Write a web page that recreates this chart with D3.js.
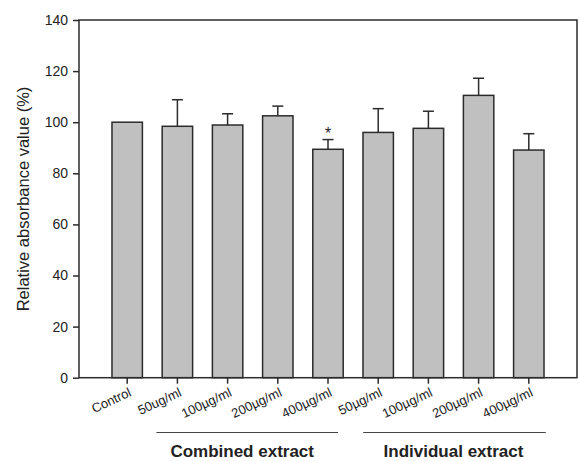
<!DOCTYPE html>
<html><head><meta charset="utf-8">
<script src="https://cdn.jsdelivr.net/npm/d3@7"></script>
<style>body{margin:0;background:#fff}svg{display:block}text{font-family:"Liberation Sans",Arial,sans-serif;fill:#222}</style>
</head><body>
<svg id="c" width="580" height="461"></svg>
<script>
const categories = ["Control","50ug/ml","100µg/ml","200µg/ml","400µg/ml","50µg/ml","100µg/ml","200µg/ml","400µg/ml"];
const values = [100, 98.4, 98.9, 102.5, 89.4, 96.0, 97.6, 110.5, 89.1];
const errors = [0, 10.4, 4.4, 3.8, 3.8, 9.3, 6.7, 6.7, 6.4];
const yTicks = [0,20,40,60,80,100,120,140];
const significant = [false,false,false,false,true,false,false,false,false];
const groups = [{label:"Combined extract", from:1, to:4},{label:"Individual extract", from:5, to:8}];

const svg = d3.select("#c");
const L=79, R=577, T=20, B=377.7;
const x = d3.scaleBand().domain(d3.range(categories.length)).range([L,R]).paddingInner(0.394).paddingOuter(0.657);
const y = d3.scaleLinear().domain([0,140]).range([B,T]);
const ink="#2b2b2b";
const cxOf = i => x(i)+x.bandwidth()/2;

// bars
svg.selectAll("rect.bar").data(values).join("rect")
  .attr("x",(d,i)=>x(i)).attr("width",x.bandwidth())
  .attr("y",d=>y(d)).attr("height",d=>y(0)-y(d))
  .attr("fill","#c0c0c0").attr("stroke",ink).attr("stroke-width",1.5);

// error bars
const eb = svg.append("g").attr("stroke",ink).attr("stroke-width",1.5);
values.forEach((v,i)=>{
  if(!errors[i]) return;
  const cx = cxOf(i);
  eb.append("line").attr("x1",cx).attr("x2",cx).attr("y1",y(v)).attr("y2",y(v+errors[i]));
  eb.append("line").attr("x1",cx-5.5).attr("x2",cx+5.5).attr("y1",y(v+errors[i])).attr("y2",y(v+errors[i]));
  if(significant[i]) svg.append("text").attr("x",cx).attr("y",y(v+errors[i])-1).attr("text-anchor","middle").attr("font-size",16).text("*");
});

// frame
svg.append("rect").attr("x",L).attr("y",T).attr("width",R-L).attr("height",B-T).attr("fill","none").attr("stroke",ink).attr("stroke-width",1.5);

// y axis
const ya = svg.append("g").attr("transform",`translate(${L},0)`).call(d3.axisLeft(y).tickValues(yTicks).tickSize(6).tickSizeOuter(0).tickPadding(5));
ya.select(".domain").remove();
ya.selectAll("line").attr("stroke",ink).attr("stroke-width",1.5);
ya.selectAll("text").attr("font-size",14).attr("fill","#222").style("font-family","'Liberation Sans',Arial,sans-serif");

// x axis
const xa = svg.append("g").attr("transform",`translate(0,${B})`).call(d3.axisBottom(x).tickSize(6).tickSizeOuter(0).tickFormat(()=>""));
xa.select(".domain").remove();
xa.selectAll("line").attr("stroke",ink).attr("stroke-width",1.5);
categories.forEach((c,i)=>{
  svg.append("text").attr("transform",`translate(${cxOf(i)+5},${395.5}) rotate(-25)`).attr("text-anchor","end").attr("font-size",13).text(c);
});

// group lines
const lineExt = [[-21, 10], [-15, 17]];
const labelShift = [-5, -1];
groups.forEach((g,k)=>{
  const x1 = cxOf(g.from)+lineExt[k][0];
  const x2 = cxOf(g.to)+lineExt[k][1];
  svg.append("line").attr("x1",x1).attr("x2",x2).attr("y1",432.5).attr("y2",432.5).attr("stroke","#444").attr("stroke-width",1);
  svg.append("text").attr("x",(x1+x2)/2 + labelShift[k]).attr("y",456.5).attr("text-anchor","middle").attr("font-size",17).attr("font-weight","bold").text(g.label);
});

// y label
svg.append("text").attr("transform",`translate(29,199) rotate(-90)`).attr("text-anchor","middle").attr("font-size",16.5).text("Relative absorbance value (%)");
</script>
</body></html>
